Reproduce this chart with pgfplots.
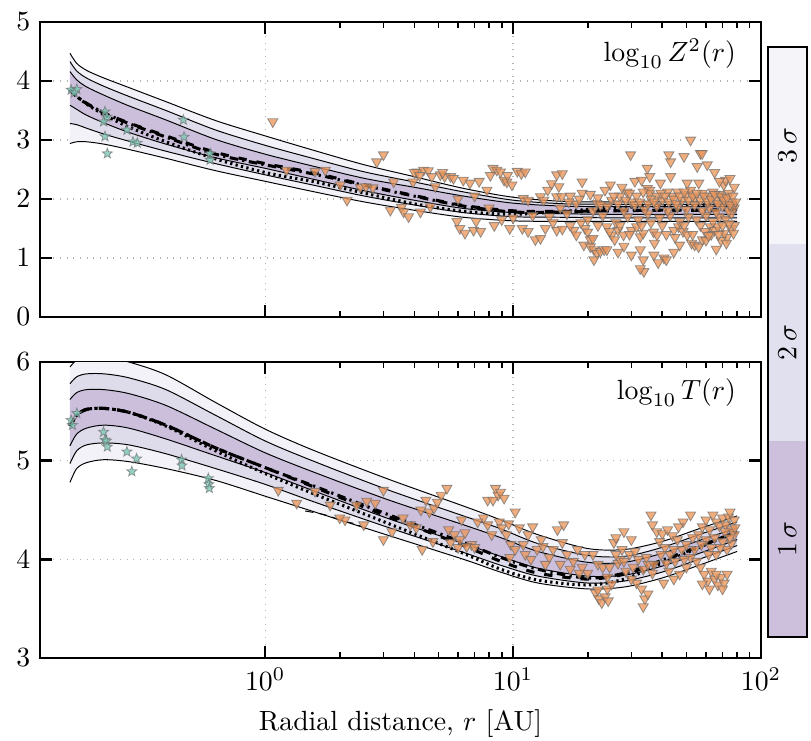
\documentclass[border=0pt]{standalone}
\usepackage{pgfplots}
\pgfplotsset{compat=1.18}
\usepackage{pgfplotstable}
\usepgfplotslibrary{fillbetween}

\definecolor{cA}{RGB}{203,191,220}
\definecolor{cB}{RGB}{222,219,235}
\definecolor{cC}{RGB}{243,242,248}
\definecolor{bA}{RGB}{205,192,221}
\definecolor{bB}{RGB}{225,224,238}
\definecolor{bC}{RGB}{245,245,249}
\definecolor{tri}{RGB}{236,150,90}
\definecolor{stc}{RGB}{125,200,182}

\pgfdeclareplotmark{fstar}{%
  \pgfpathmoveto{\pgfpointpolar{90}{\pgfplotmarksize}}%
  \pgfpathlineto{\pgfpointpolar{126}{0.42\pgfplotmarksize}}%
  \pgfpathlineto{\pgfpointpolar{162}{\pgfplotmarksize}}%
  \pgfpathlineto{\pgfpointpolar{198}{0.42\pgfplotmarksize}}%
  \pgfpathlineto{\pgfpointpolar{234}{\pgfplotmarksize}}%
  \pgfpathlineto{\pgfpointpolar{270}{0.42\pgfplotmarksize}}%
  \pgfpathlineto{\pgfpointpolar{306}{\pgfplotmarksize}}%
  \pgfpathlineto{\pgfpointpolar{342}{0.42\pgfplotmarksize}}%
  \pgfpathlineto{\pgfpointpolar{18}{\pgfplotmarksize}}%
  \pgfpathlineto{\pgfpointpolar{54}{0.42\pgfplotmarksize}}%
  \pgfpathclose
  \pgfusepathqfillstroke
}

\pgfplotstableread{
x u3 u2 u1 l1 l2 l3 md dsh dot
0.1633 4.47 4.33 4.16 3.59 3.28 2.94 3.85 3.85 3.85
0.1738 4.30 4.17 4.02 3.52 3.26 2.97 3.74 3.74 3.74
0.1905 4.18 4.05 3.90 3.42 3.20 2.97 3.62 3.62 3.61
0.2239 4.05 3.91 3.76 3.29 3.10 2.93 3.46 3.46 3.43
0.2818 3.89 3.74 3.58 3.13 2.98 2.84 3.28 3.29 3.22
0.3981 3.65 3.50 3.34 2.93 2.81 2.69 3.05 3.07 2.97
0.6310 3.33 3.17 3.01 2.70 2.60 2.48 2.76 2.79 2.68
1      3.07 2.91 2.76 2.52 2.41 2.30 2.58 2.60 2.45
1.585  2.82 2.68 2.55 2.33 2.23 2.12 2.42 2.44 2.29
2.512  2.58 2.46 2.35 2.14 2.05 1.95 2.23 2.24 2.10
3.981  2.38 2.29 2.20 1.98 1.90 1.81 2.05 2.06 1.92
6.310  2.18 2.12 2.05 1.84 1.77 1.69 1.88 1.89 1.79
10     2.03 1.98 1.93 1.77 1.70 1.63 1.78 1.80 1.74
15.85  1.96 1.92 1.88 1.75 1.69 1.62 1.78 1.79 1.79
25.12  1.95 1.91 1.87 1.74 1.68 1.62 1.80 1.80 1.85
39.81  1.95 1.91 1.87 1.74 1.68 1.62 1.81 1.81 1.88
56.23  1.95 1.91 1.87 1.74 1.68 1.62 1.81 1.81 1.90
80.17  1.95 1.91 1.87 1.74 1.68 1.62 1.82 1.82 1.91
}\topband

\pgfplotstableread{
x u3 u2 u1 l1 l2 l3 md dsh dot
0.1633 5.95 5.78 5.62 5.15 4.97 4.78 5.35 5.35 5.35
0.1738 6.02 5.85 5.69 5.27 5.10 4.92 5.46 5.46 5.46
0.1905 6.05 5.88 5.72 5.33 5.16 4.98 5.52 5.52 5.52
0.2239 6.05 5.88 5.72 5.36 5.18 5.01 5.53 5.53 5.53
0.2818 6.00 5.84 5.68 5.33 5.16 4.99 5.49 5.49 5.49
0.3981 5.87 5.72 5.56 5.22 5.07 4.92 5.36 5.36 5.35
0.6310 5.59 5.46 5.32 5.05 4.92 4.80 5.13 5.13 5.10
1      5.32 5.20 5.08 4.88 4.76 4.64 4.93 4.93 4.87
1.585  5.10 4.99 4.88 4.69 4.58 4.48 4.74 4.73 4.66
3.162  4.81 4.70 4.60 4.41 4.32 4.24 4.45 4.43 4.36
6.310  4.54 4.44 4.35 4.16 4.07 4.00 4.17 4.14 4.06
8.913  4.40 4.31 4.22 4.03 3.94 3.87 4.02 3.98 3.90
12.59  4.25 4.16 4.08 3.91 3.83 3.76 3.90 3.86 3.79
19.95  4.11 4.04 3.97 3.83 3.76 3.70 3.81 3.80 3.74
28.18  4.10 4.03 3.97 3.84 3.78 3.72 3.86 3.85 3.80
39.81  4.18 4.12 4.06 3.93 3.87 3.81 3.99 3.98 3.96
56.23  4.31 4.25 4.19 4.06 4.00 3.94 4.13 4.13 4.12
80.17  4.44 4.38 4.32 4.20 4.14 4.08 4.28 4.28 4.28
}\botband

\pgfplotstableread{
x y
1.074 3.31
1.22 2.49
1.59 2.47
1.75 2.49
2.01 2.24
2.14 1.98
2.42 2.20
2.55 2.21
2.72 2.19
2.82 2.63
3.00 2.75
3.20 1.81
3.30 2.29
3.55 1.86
3.62 1.78
3.79 1.70
3.95 2.29
4.10 2.46
4.23 1.78
4.36 2.49
4.55 2.48
4.64 1.87
4.86 2.21
5.09 2.41
5.30 2.38
5.60 2.38
5.75 2.35
5.94 1.62
6.10 1.50
6.40 1.42
6.70 2.27
6.93 1.47
7.10 1.62
7.40 1.45
7.85 2.15
8.30 2.52
8.60 2.49
8.90 2.46
9.20 2.32
9.44 2.29
9.50 2.40
9.90 2.24
10.4 2.47
10.8 2.43
11.0 2.01
11.2 2.46
11.5 1.98
10.9 1.50
11.5 1.45
12.3 1.31
12.9 1.33
13.5 1.50
12.9 2.04
13.3 1.98
13.8 2.15
14.3 2.26
15.0 2.41
15.8 2.43
15.3 2.21
15.0 2.04
15.7 2.04
15.0 1.47
15.8 1.49
17.6 1.47
18.0 1.39
19.0 2.29
19.5 1.50
20.0 1.44
20.5 1.31
21.0 1.33
19.3 1.22
20.5 1.19
21.2 1.14
21.8 1.08
22.5 1.11
23.3 1.14
23.9 1.14
21.8 1.93
21.2 0.97
24.7 2.24
23.9 1.53
25.0 1.39
25.7 1.31
26.5 1.47
27.9 1.39
28.8 2.12
29.8 2.75
30.0 1.47
31.5 1.53
32.6 1.36
33.5 1.42
34.8 2.52
35.6 2.38
34.8 2.18
35.6 2.15
35.6 2.09
32.6 1.14
33.7 0.77
33.5 0.97
32.6 0.82
36.9 1.44
38.1 1.39
37.2 1.25
39.3 2.27
40.6 1.00
41.5 0.97
42.5 2.75
43.2 2.63
43.2 2.38
44.5 1.47
46.5 1.53
48.9 2.72
48.5 1.45
50.4 2.27
50.4 1.39
52.0 3.00
52.5 1.25
54.0 1.22
55.3 2.55
56.1 2.27
57.0 2.77
56.0 1.19
58.0 1.31
57.9 2.77
60.7 2.58
62.5 1.53
65.0 1.47
67.0 1.53
70.8 2.24
72.0 2.32
62.0 2.05
64.0 2.12
66.0 1.98
68.0 2.08
70.0 2.02
74.0 2.10
76.0 1.95
44.0 2.05
46.0 2.12
48.0 1.98
50.0 2.08
52.0 2.15
54.0 2.02
58.0 2.10
38.0 2.05
40.0 1.98
42.0 2.12
36.0 2.00
30.0 1.95
27.0 2.05
25.0 1.98
22.0 2.02
18.0 1.92
16.5 1.75
14.0 1.70
12.0 1.72
10.0 1.68
8.0 1.85
7.0 2.05
6.0 2.00
20.0 1.65
23.0 1.72
26.0 1.60
29.0 1.70
32.0 1.65
35.0 1.75
39.0 1.68
43.0 1.72
47.0 1.62
51.0 1.70
55.0 1.65
60.0 1.72
64.0 1.62
68.0 1.70
72.0 1.66
76.0 1.75
78.0 1.85
74.0 1.80
70.0 1.88
66.0 1.78
62.0 1.85
58.0 1.80
54.0 1.90
50.0 1.82
46.0 1.86
42.0 1.80
38.0 1.88
34.0 1.82
31.0 1.90
28.0 1.80
24.0 1.88
21.0 1.80
17.0 2.05
19.0 2.10
78.0 2.20
75.0 2.35
73.0 1.35
75.5 1.50
71.0 1.42
78.0 1.55
44.5 1.10
47.0 1.22
60.0 1.30
63.0 1.40
66.0 1.15
69.0 1.30
28.0 1.20
26.5 1.10
30.0 1.05
37.0 1.05
38.5 0.92
31.0 2.30
27.5 2.20
33.0 2.32
65.0 2.45
68.0 2.30
15.5 1.85
16.8 1.95
18.5 2.00
20.5 2.08
22.5 1.90
23.5 2.15
25.5 2.05
26.5 1.92
28.5 1.98
29.5 2.10
31.5 2.05
32.5 1.95
33.5 2.12
35.0 1.92
37.0 1.95
39.5 2.10
41.0 2.05
42.5 1.95
44.5 2.00
45.5 1.92
47.0 2.05
49.0 2.12
51.0 1.98
53.0 2.05
55.0 2.10
57.0 1.98
59.0 2.05
61.0 1.95
63.0 2.00
65.0 2.08
67.0 1.92
69.0 2.05
71.0 1.98
73.0 2.02
75.0 1.90
77.0 2.05
79.0 1.95
14.5 1.60
17.0 1.55
18.8 1.60
22.0 1.55
24.5 1.45
27.0 1.55
29.5 1.40
33.0 1.55
36.0 1.60
40.0 1.55
41.5 1.40
45.0 1.35
49.0 1.55
53.0 1.40
57.0 1.55
59.5 1.45
61.5 1.38
67.5 1.40
70.0 1.55
74.5 1.58
77.5 1.42
72.5 1.25
4.0 2.45
4.2 2.40
4.7 2.38
5.2 2.45
6.3 2.32
7.3 2.30
8.1 2.40
9.0 1.65
8.4 1.55
9.7 1.50
}\toptri

\pgfplotstableread{
x y
1.13 4.70
1.34 4.57
1.59 4.69
1.83 4.55
2.10 4.40
2.34 4.55
2.57 4.59
2.78 4.57
3.00 4.70
3.25 4.28
3.60 4.42
3.85 4.35
4.07 4.32
4.25 4.50
4.45 4.60
4.60 4.48
4.80 4.52
4.95 4.58
5.13 4.65
5.41 4.72
5.50 4.30
5.80 4.25
6.10 4.20
6.40 4.27
6.80 4.15
5.60 4.17
6.00 4.12
6.50 4.13
7.00 4.12
4.75 4.18
7.90 4.60
8.50 4.72
8.70 4.65
8.90 4.68
9.20 4.62
8.30 4.60
10.2 4.48
7.60 4.42
7.90 4.35
8.80 4.38
9.00 4.32
9.60 4.36
10.6 4.32
9.40 4.25
9.80 4.15
10.2 4.10
9.70 4.02
11.2 4.05
11.8 4.00
12.5 4.10
7.20 4.38
6.20 4.40
13.2 4.13
14.0 4.02
14.5 4.10
15.1 4.30
15.8 4.17
16.5 4.05
17.5 3.98
18.2 4.10
19.0 3.92
20.0 3.86
17.0 3.90
18.5 3.86
21.0 4.05
22.0 3.95
21.5 3.66
22.2 3.60
22.8 3.56
23.5 3.62
24.2 3.58
22.0 3.69
24.0 3.70
25.5 4.17
26.5 3.96
27.5 4.10
28.5 3.88
29.5 4.05
30.5 3.92
32.0 4.00
33.5 3.90
35.0 3.95
36.5 3.86
31.5 3.76
33.0 3.70
34.0 3.60
33.5 3.52
35.0 3.65
36.0 4.45
36.5 4.35
38.0 4.28
40.0 4.26
42.0 4.30
44.0 4.24
39.0 4.18
41.0 4.12
43.0 4.05
45.0 3.98
42.5 3.88
44.5 3.80
40.5 3.76
46.0 4.20
48.0 4.10
50.0 4.15
52.0 4.02
54.0 4.10
56.0 4.25
58.0 4.33
60.0 4.40
62.0 4.30
64.0 4.45
66.0 4.38
68.0 4.34
70.0 4.42
72.0 4.35
74.0 4.43
76.0 4.30
78.0 4.25
60.0 4.20
63.0 4.12
66.0 4.05
70.0 4.18
73.0 4.10
76.0 4.16
57.0 3.92
59.0 3.85
61.0 3.78
63.0 3.88
65.0 3.80
67.0 3.74
69.0 3.82
71.0 3.76
73.0 3.85
55.0 3.98
50.0 3.92
47.0 3.85
26.0 4.22
28.0 4.28
30.0 4.20
27.0 4.00
24.0 3.82
25.0 3.75
30.0 3.80
78.0 4.40
75.0 4.48
52.0 4.45
48.5 4.38
46.5 4.33
11.5 4.25
12.0 4.33
13.0 4.20
15.5 3.95
16.0 4.35
3.00 4.20
2.50 4.35
2.00 4.42
4.30 4.10
19.5 4.05
23.0 3.92
26.0 4.05
28.0 3.98
31.0 4.08
34.5 4.02
37.0 3.95
39.5 4.05
41.5 3.96
44.5 4.10
49.0 4.00
53.0 4.22
57.5 4.15
61.5 4.05
65.0 4.22
68.5 4.12
71.5 4.28
75.0 4.22
78.5 4.32
58.0 3.75
62.0 3.70
66.0 3.85
70.0 3.70
8.2 4.25
11.0 4.15
13.5 3.95
24.5 3.92
}\bottri

\pgfplotstableread{
x y
0.165 3.85
0.174 3.86
0.170 3.80
0.226 3.48
0.230 3.39
0.223 3.31
0.226 3.06
0.231 2.77
0.277 3.17
0.293 2.97
0.305 2.95
0.468 3.34
0.471 3.05
0.600 2.77
0.600 2.66
}\topstar

\pgfplotstableread{
x y
0.165 5.41
0.167 5.36
0.174 5.48
0.223 5.29
0.226 5.21
0.229 5.20
0.231 5.14
0.277 5.09
0.303 5.02
0.290 4.89
0.460 5.01
0.462 4.95
0.590 4.82
0.593 4.76
0.596 4.72
}\botstar

\tikzset{
  bandline/.style={black, line width=0.35pt, smooth},
  mdline/.style={black, line width=1.1pt, smooth, dash pattern=on 3pt off 1.6pt on 0.8pt off 1.6pt},
  dshline/.style={black, line width=1.1pt, smooth, dash pattern=on 3pt off 3.6pt},
  dotline/.style={black, line width=1.1pt, smooth, dash pattern=on 0.8pt off 1.2pt},
}

\newcommand{\bands}[1]{%
  \addplot[draw=none, smooth, name path=U3] table[x=x,y=u3]{#1};
  \addplot[draw=none, smooth, name path=U2] table[x=x,y=u2]{#1};
  \addplot[draw=none, smooth, name path=U1] table[x=x,y=u1]{#1};
  \addplot[draw=none, smooth, name path=L1] table[x=x,y=l1]{#1};
  \addplot[draw=none, smooth, name path=L2] table[x=x,y=l2]{#1};
  \addplot[draw=none, smooth, name path=L3] table[x=x,y=l3]{#1};
  \addplot[cC] fill between[of=U3 and U2];
  \addplot[cB] fill between[of=U2 and U1];
  \addplot[cA] fill between[of=U1 and L1];
  \addplot[cB] fill between[of=L1 and L2];
  \addplot[cC] fill between[of=L2 and L3];
  \addplot[bandline] table[x=x,y=u3]{#1};
  \addplot[bandline] table[x=x,y=u2]{#1};
  \addplot[bandline] table[x=x,y=u1]{#1};
  \addplot[bandline] table[x=x,y=l1]{#1};
  \addplot[bandline] table[x=x,y=l2]{#1};
  \addplot[bandline] table[x=x,y=l3]{#1};
}

\begin{document}
\begin{tikzpicture}
\begin{axis}[at={(14.4pt,-114.12pt)}, anchor=south west,
  scale only axis, width=259.56pt, height=106.2pt,
  xmode=log, xmin=0.1236, xmax=100,
  ymin=0, ymax=5, ytick={0,1,2,3,4,5},
  xtick={1,10,100}, xticklabels={},
  axis line style={line width=1.05pt},
  tick align=inside,
  major tick length=4.3pt, minor tick length=2.3pt,
  major tick style={line width=0.9pt, black},
  minor tick style={line width=0.6pt, black},
  xmajorgrids, ymajorgrids,
  major grid style={dotted, gray!60, line width=0.4pt}]
  \bands{\topband}
  \addplot[only marks, mark=triangle*, mark size=2.1pt,
    mark options={rotate=180, fill=tri, fill opacity=0.78, draw=gray!85!black, draw opacity=0.7, line width=0.3pt}]
    table[x=x,y=y]{\toptri};
  \addplot[dotline] table[x=x,y=dot]{\topband};
  \addplot[dshline] table[x=x,y=dsh]{\topband};
  \addplot[mdline] table[x=x,y=md]{\topband};
  \addplot[only marks, mark=fstar, mark size=1.9pt,
    mark options={fill=stc, fill opacity=0.8, draw=gray!80!black, draw opacity=0.6, line width=0.3pt}]
    table[x=x,y=y]{\topstar};
  \node[anchor=north east] at (rel axis cs:0.979,0.976) {$\log_{10} Z^2(r)$};
\end{axis}

\begin{axis}[at={(14.4pt,-236.88pt)}, anchor=south west,
  scale only axis, width=259.56pt, height=106.56pt,
  xmode=log, xmin=0.1236, xmax=100,
  ymin=3, ymax=6, ytick={3,4,5,6},
  xtick={1,10,100},
  axis line style={line width=1.05pt},
  tick align=inside,
  major tick length=4.3pt, minor tick length=2.3pt,
  major tick style={line width=0.9pt, black},
  minor tick style={line width=0.6pt, black},
  xmajorgrids, ymajorgrids,
  major grid style={dotted, gray!60, line width=0.4pt},
  xlabel={Radial distance, $r$ [AU]}]
  \bands{\botband}
  \addplot[only marks, mark=triangle*, mark size=2.1pt,
    mark options={rotate=180, fill=tri, fill opacity=0.78, draw=gray!85!black, draw opacity=0.7, line width=0.3pt}]
    table[x=x,y=y]{\bottri};
  \addplot[black, line width=0.35pt, densely dashed, smooth] coordinates {(1.45,4.49) (1.75,4.45) (2.05,4.39) (2.3,4.36) (2.55,4.31)};
  \addplot[dotline] table[x=x,y=dot]{\botband};
  \addplot[dshline] table[x=x,y=dsh]{\botband};
  \addplot[mdline] table[x=x,y=md]{\botband};
  \addplot[only marks, mark=fstar, mark size=1.9pt,
    mark options={fill=stc, fill opacity=0.8, draw=gray!80!black, draw opacity=0.6, line width=0.3pt}]
    table[x=x,y=y]{\botstar};
  \node[anchor=north east] at (rel axis cs:0.979,0.976) {$\log_{10} T(r)$};
\end{axis}

\fill[bC] (276.48pt,-16.92pt) rectangle (290.52pt,-87.84pt);
\fill[bB] (276.48pt,-87.84pt) rectangle (290.52pt,-158.76pt);
\fill[bA] (276.48pt,-158.76pt) rectangle (290.52pt,-229.32pt);
\draw[line width=1.05pt] (276.48pt,-16.92pt) rectangle (290.52pt,-229.32pt);
\node[rotate=90] at (283.5pt,-52.38pt) {$3\,\sigma$};
\node[rotate=90] at (283.5pt,-123.3pt) {$2\,\sigma$};
\node[rotate=90] at (283.5pt,-194.04pt) {$1\,\sigma$};

\pgfresetboundingbox
\path[use as bounding box] (0pt,0pt) rectangle (291.96pt,-266.76pt);
\end{tikzpicture}
\end{document}
